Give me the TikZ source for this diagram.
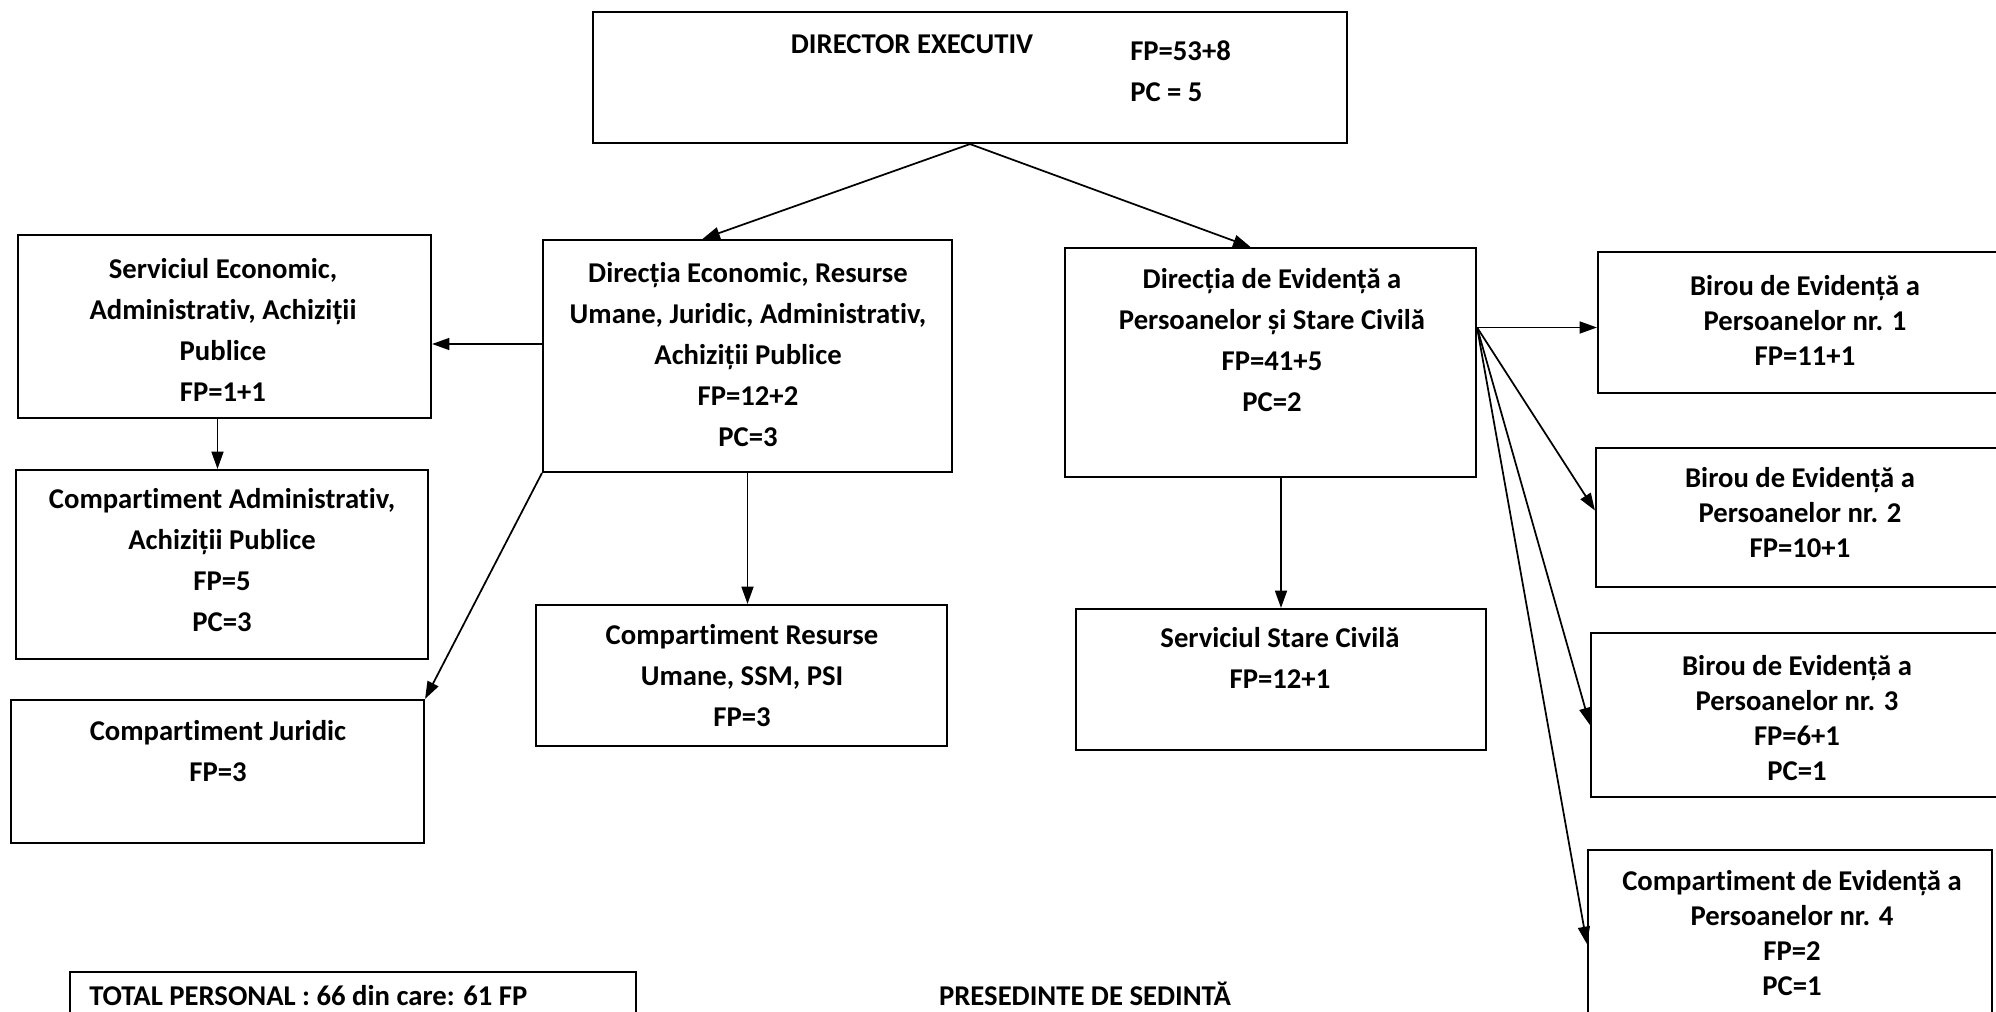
\documentclass[tikz,border=0pt]{standalone}
\usepackage{fontspec}
\setmainfont{Carlito}[Ligatures=NoCommon]
\usetikzlibrary{arrows.meta,calc,fit}

\tikzset{
  box/.style={draw, line width=1.6pt, inner sep=0pt},
  txt/.style={inner sep=0pt, align=center, font=\bfseries\fontsize{21.5}{30.75}\selectfont},
  txtr/.style={txt, font=\bfseries\fontsize{21.5}{26.25}\selectfont},
  conn/.style={line width=1.3pt, -{Triangle[length=13pt,width=9pt]}},
}

\begin{document}
\begin{tikzpicture}[x=0.75pt,y=0.75pt,yscale=-1,xscale=1]
	\useasboundingbox (0,0) rectangle (1996,1012);

	% Box
	\node[box, fit={(593,12) (1347,143)}] (dir) {};
	% Box
	\node[box, fit={(543,240) (952,472)}] (dirEc) {};
	% Box
	\node[box, fit={(18,235) (431,418)}] (servEc) {};
	% Box
	\node[box, fit={(16,470) (428,659)}] (compAdm) {};
	% Box
	\node[box, fit={(11,700) (424,843)}] (compJur) {};
	% Box
	\node[box, fit={(536,605) (947,746)}] (compRU) {};
	% Box
	\node[box, fit={(1065,248) (1476,477)}] (dirEv) {};
	% Box
	\node[box, fit={(1076,609) (1486,750)}] (servSC) {};
	% Box
	\node[box, fit={(1598,252) (2010,393)}] (birou1) {};
	% Box
	\node[box, fit={(1596,448) (2006,587)}] (birou2) {};
	% Box
	\node[box, fit={(1591,633) (2002,797)}] (birou3) {};
	% Box
	\node[box, fit={(1588,850) (1992,1030)}] (comp4) {};
	% Box
	\node[box, fit={(70,972) (636,1040)}] (total) {};

	% Text Node
	\node[txt] (dirT) at (912,44) {DIRECTOR EXECUTIV};
	% Text Node
	\node[txt, anchor=west, align=left] (dirN) at (1130,71) {FP=53+8\\PC = 5};
	% Text Node
	\node[txt] (dirEcT) at (748,355) {Direcția Economic, Resurse\\Umane, Juridic, Administrativ,\\Achiziții Publice\\FP=12+2\\PC=3};
	% Text Node
	\node[txt] (servEcT) at (223,329.5) {Serviciul Economic,\\Administrativ, Achiziții\\Publice\\FP=1+1};
	% Text Node
	\node[txt] (compAdmT) at (222,560) {Compartiment Administrativ,\\Achiziții Publice\\FP=5\\PC=3};
	% Text Node
	\node[txt] (compJurT) at (218,751) {Compartiment Juridic\\FP=3};
	% Text Node
	\node[txt] (compRUT) at (742,675.5) {Compartiment Resurse\\Umane, SSM, PSI\\FP=3};
	% Text Node
	\node[txt] (dirEvT) at (1272,340) {Direcția de Evidență a\\Persoanelor și Stare Civilă\\FP=41+5\\PC=2};
	% Text Node
	\node[txt] (servSCT) at (1280,657.5) {Serviciul Stare Civilă\\FP=12+1};
	% Text Node
	\node[txtr] (birou1T) at (1805,320) {Birou de Evidență a\\Persoanelor nr. 1\\FP=11+1};
	% Text Node
	\node[txtr] (birou2T) at (1800,513) {Birou de Evidență a\\Persoanelor nr. 2\\FP=10+1};
	% Text Node
	\node[txtr] (birou3T) at (1797,718.5) {Birou de Evidență a\\Persoanelor nr. 3\\FP=6+1\\PC=1};
	% Text Node
	\node[txtr] (comp4T) at (1792,933.5) {Compartiment de Evidență a\\Persoanelor nr. 4\\FP=2\\PC=1};
	% Text Node
	\node[txt, anchor=base west] (totalT) at (89,1005) {TOTAL PERSONAL : 66 din care: 61 FP};
	% Text Node
	\node[txt, anchor=base] (presT) at (1085,1005) {PRESEDINTE DE SEDINTĂ};

	% Connection
	\draw[conn] (dir.south) -- ($(dirEc.north)+(-45,0)$);
	% Connection
	\draw[conn] (dir.south) -- ($(dirEv.north)+(-20,0)$);
	% Connection
	\draw[conn] ($(dirEc.west)+(0,-12)$) -- ($(servEc.east)+(0,17.5)$);
	% Connection
	\draw[conn] ($(servEc.south)+(-7,0)$) -- ($(servEc.south |- compAdm.north)+(-7,0)$);
	% Connection
	\draw[conn] (dirEc.south west) -- (compJur.north east);
	% Connection
	\draw[conn] (dirEc.south) -- (dirEc.south |- compRU.north);
	% Connection
	\draw[conn] (servSC.north |- dirEv.south) -- (servSC.north);
	% Connection
	\coordinate (evOut) at ($(dirEv.east)+(0,-35)$);
	\draw[conn] (evOut) -- (evOut -| birou1.west);
	% Connection
	\draw[conn] (evOut) -- ($(birou2.west)+(0,-7)$);
	% Connection
	\draw[conn] (evOut) -- ($(birou3.west)+(0,10)$);
	% Connection
	\draw[conn] (evOut) -- ($(comp4.west)+(0,4)$);

\end{tikzpicture}
\end{document}
